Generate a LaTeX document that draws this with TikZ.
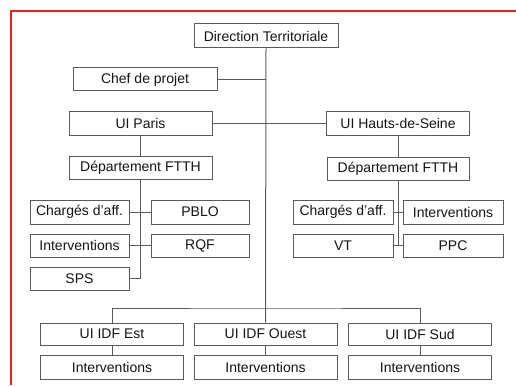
\documentclass[tikz,border=0pt]{standalone}
\usepackage{fontspec}
\setmainfont{Liberation Sans}
\definecolor{framered}{RGB}{222,38,30}
\definecolor{linegray}{RGB}{90,90,90}
\definecolor{textgray}{RGB}{20,20,20}

\begin{document}
\begin{tikzpicture}[x=1pt, y=-1pt,
        box/.style={draw=linegray, line width=1pt, rectangle, minimum height=23pt,
            inner sep=0pt, text=textgray, font=\fontsize{14}{16}\selectfont},
        link/.style={draw=linegray, line width=1pt}]
        \useasboundingbox (0, 0) rectangle (516, 385);
        \fill[white] (0, 0) rectangle (516, 385);

        % red frame, cropped on right and bottom
        \draw[framered, line width=2.2pt] (516, 11) -- (11, 11) -- (11, 385);

        \node[box, minimum width=144pt, minimum height=24pt] (dir) at (266, 36) {Direction Territoriale};
        \node[box, minimum width=144pt] (chef) at (145, 79.5) {Chef de projet};

        \node[box, minimum width=143pt] (paris) at (140.5, 123.5) {UI Paris};
        \node[box, minimum width=143pt] (hds) at (398, 123.5) {UI Hauts-de-Seine};
        \node[box, minimum width=143pt] (ftthP) at (140.5, 167.5) {Département FTTH};
        \node[box, minimum width=142pt] (ftthH) at (398, 168.5) {Département FTTH};

        \node[box, minimum width=99pt, minimum height=24pt] (chargP) at (79.5, 212) {Chargés d’aff.};
        \node[box, minimum width=98pt, minimum height=24pt] (pblo) at (200, 212) {PBLO};
        \node[box, minimum width=99pt] (intervP) at (79.5, 245.5) {Interventions};
        \node[box, minimum width=98pt] (rqf) at (200, 245.5) {RQF};
        \node[box, minimum width=99pt] (sps) at (79.5, 278.5) {SPS};

        \node[box, minimum width=100pt, minimum height=24pt] (chargH) at (343, 212) {Chargés d’aff.};
        \node[box, minimum width=100pt, minimum height=24pt] (intervH) at (453, 212) {Interventions};
        \node[box, minimum width=100pt] (vt) at (343, 245.5) {VT};
        \node[box, minimum width=100pt] (ppc) at (453, 245.5) {PPC};

        \foreach \nm/\x/\lab in {est/112/Est, ouest/265.5/Ouest, sud/420/Sud} {
            \node[box, minimum width=143pt, minimum height=22pt] (\nm) at (\x, 334) {UI IDF \lab};
            \node[box, minimum width=143pt, minimum height=24pt] (\nm int) at (\x, 367) {Interventions};
            \draw[link] (\nm.south) -- (\nm int.north);
        }

        \coordinate (bus) at (266, 308);

        \draw[link] (dir.south) -- (ouest.north);
        \draw[link] (chef.east) -- (chef.east -| dir.south);
        \draw[link] (paris.east) -- (hds.west);
        \draw[link] (est.north) |- (bus) -| (sud.north);

        \draw[link] (paris.south) -- (ftthP.north);
        \draw[link] (ftthP.south) |- (sps.east);
        \draw[link] (chargP.east) -- (pblo.west);
        \draw[link] (intervP.east) -- (rqf.west);

        \draw[link] (hds.south) -- (ftthH.north);
        \draw[link] (ftthH.south) -- (ftthH.south |- vt.east);
        \draw[link] (chargH.east) -- (intervH.west);
        \draw[link] (vt.east) -- (ppc.west);
    \end{tikzpicture}
\end{document}
